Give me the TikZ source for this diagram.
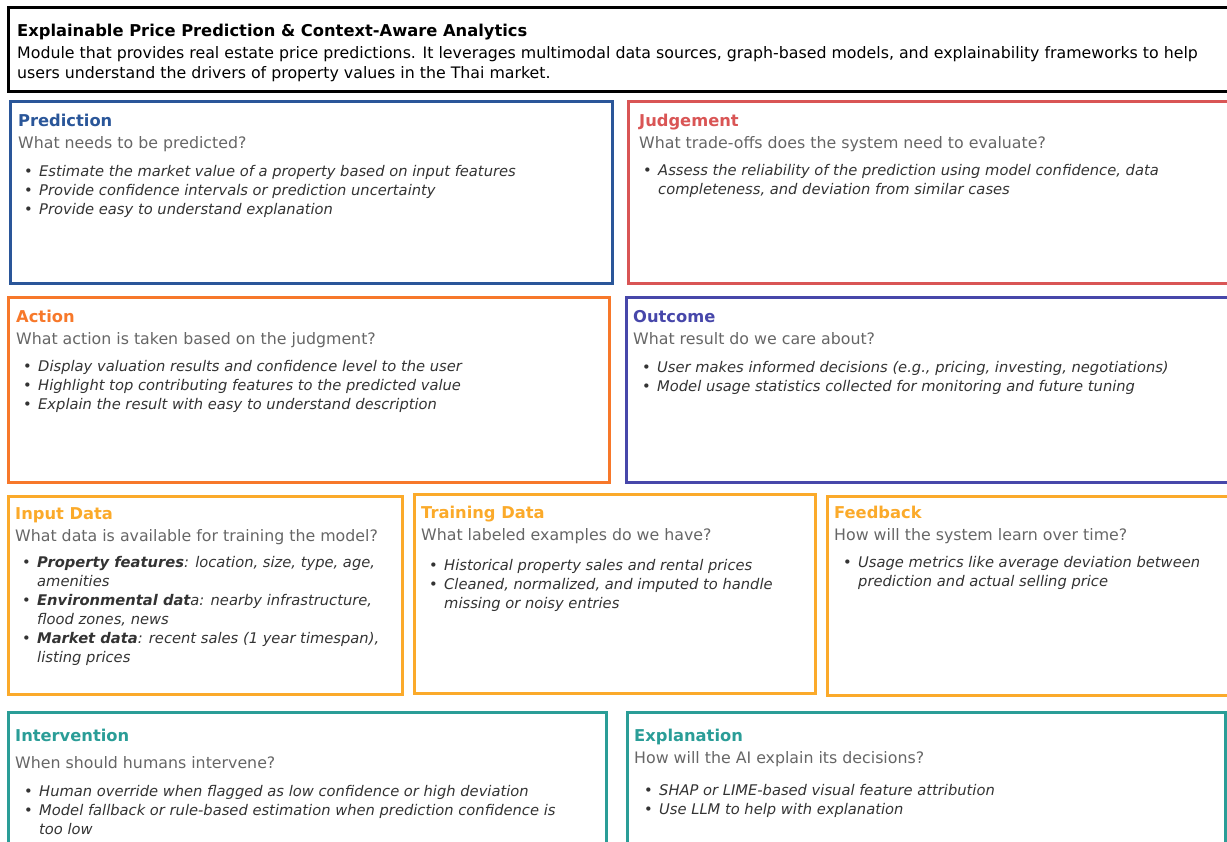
\documentclass[tikz,border=0pt]{standalone}
\usepackage{fontspec}
\setmainfont{DejaVu Sans}
\usetikzlibrary{calc}

\definecolor{predblue}{HTML}{2A5699}
\definecolor{judgered}{HTML}{D95555}
\definecolor{actorange}{HTML}{F7782A}
\definecolor{outindigo}{HTML}{4747AA}
\definecolor{dataamber}{HTML}{FBAA2A}
\definecolor{humanteal}{HTML}{2A9D97}
\definecolor{qgray}{HTML}{666666}
\definecolor{bodytext}{HTML}{333333}

\newcommand*{\bitem}[1]{\makebox[15pt][l]{\upshape\textbullet}#1}
\newcommand*{\bcont}[1]{\hspace*{15pt}#1}

\tikzset{
	card/.style={line width=3pt, draw=#1},
	cardtitle/.style={anchor=west, inner sep=0pt, text=#1,
		text height=12pt, text depth=0pt,
		font=\fontsize{16.3}{20}\selectfont\bfseries},
	question/.style={anchor=west, inner sep=0pt, text=qgray,
		text height=12pt, text depth=0pt,
		font=\fontsize{15.8}{19}\selectfont},
	bullets/.style={anchor=north west, inner sep=0pt, align=left, text=bodytext,
		font=\fontsize{14.7}{19}\selectfont\itshape},
}

\begin{document}
\begin{tikzpicture}[x=1pt, y=-1pt]

\useasboundingbox (0,0) rectangle (1227,842);
\clip (0,0) rectangle (1227,842);

% header
\draw [line width=3pt] (8,8) rectangle (1240,92);
\node [anchor=west, inner sep=0pt, text height=12pt, text depth=0pt,
	font=\fontsize{16.3}{20}\selectfont\bfseries] (headtitle) at (17,31)
	{Explainable Price Prediction \& Context-Aware Analytics};
\node [anchor=north west, inner sep=0pt, align=left, font=\fontsize{15.8}{20}\selectfont] (headtext) at (17,46)
	{Module that provides real estate price predictions. It leverages multimodal data sources, graph-based models, and explainability frameworks to help\\
	users understand the drivers of property values in the Thai market.};

% row 1
\draw [card=predblue] (10,102) rectangle (612,284);
\node [cardtitle=predblue] (predtitle) at (18,121) {Prediction};
\node [question] (predq) at (18,143) {What needs to be predicted?};
\node [bullets] (predlist) at (24,165) {
	\bitem{Estimate the market value of a property based on input features}\\
	\bitem{Provide confidence intervals or prediction uncertainty}\\
	\bitem{Provide easy to understand explanation}};

\draw [card=judgered] (628,102) rectangle (1240,284);
\node [cardtitle=judgered] (judgetitle) at (639,121) {Judgement};
\node [question] (judgeq) at (639,143) {What trade-offs does the system need to evaluate?};
\node [bullets] (judgelist) at (643,164) {
	\bitem{Assess the reliability of the prediction using model confidence, data}\\
	\bcont{completeness, and deviation from similar cases}};

% row 2
\draw [card=actorange] (8,298) rectangle (609,482);
\node [cardtitle=actorange] (acttitle) at (16,317) {Action};
\node [question] (actq) at (16,339) {What action is taken based on the judgment?};
\node [bullets] (actlist) at (23,360) {
	\bitem{Display valuation results and confidence level to the user}\\
	\bitem{Highlight top contributing features to the predicted value}\\
	\bitem{Explain the result with easy to understand description}};

\draw [card=outindigo] (626,298) rectangle (1240,482);
\node [cardtitle=outindigo] (outtitle) at (633,317) {Outcome};
\node [question] (outq) at (633,339) {What result do we care about?};
\node [bullets] (outlist) at (642,361) {
	\bitem{User makes informed decisions (e.g., pricing, investing, negotiations)}\\
	\bitem{Model usage statistics collected for monitoring and future tuning}};

% row 3
\draw [card=dataamber] (8,496) rectangle (402,694);
\node [cardtitle=dataamber] (inputtitle) at (15,513) {Input Data};
\node [question] (inputq) at (15,535) {What data is available for training the model?};
\node [bullets] (inputlist) at (22,556) {
	\bitem{\textbf{Property features}: location, size, type, age,}\\
	\bcont{amenities}\\
	\bitem{\textbf{Environmental dat}a: nearby infrastructure,}\\
	\bcont{flood zones, news}\\
	\bitem{\textbf{Market data}: recent sales (1 year timespan),}\\
	\bcont{listing prices}};

\draw [card=dataamber] (414,494) rectangle (815,693);
\node [cardtitle=dataamber] (traintitle) at (421,512) {Training Data};
\node [question] (trainq) at (421,534) {What labeled examples do we have?};
\node [bullets] (trainlist) at (429,559) {
	\bitem{Historical property sales and rental prices}\\
	\bitem{Cleaned, normalized, and imputed to handle}\\
	\bcont{missing or noisy entries}};

\draw [card=dataamber] (827,496) rectangle (1240,695);
\node [cardtitle=dataamber] (feedtitle) at (834,512) {Feedback};
\node [question] (feedq) at (834,534) {How will the system learn over time?};
\node [bullets] (feedlist) at (843,556) {
	\bitem{Usage metrics like average deviation between}\\
	\bcont{prediction and actual selling price}};

% row 4
\draw [card=humanteal] (8,712) rectangle (606,860);
\node [cardtitle=humanteal] (intertitle) at (15,735) {Intervention};
\node [question] (interq) at (15,762) {When should humans intervene?};
\node [bullets] (interlist) at (24,785) {
	\bitem{Human override when flagged as low confidence or high deviation}\\
	\bitem{Model fallback or rule-based estimation when prediction confidence is}\\
	\bcont{too low}};

\draw [card=humanteal] (627,712) rectangle (1225,860);
\node [cardtitle=humanteal] (expltitle) at (634,735) {Explanation};
\node [question] (explq) at (634,757) {How will the AI explain its decisions?};
\node [bullets] (expllist) at (644,784) {
	\bitem{SHAP or LIME-based visual feature attribution}\\
	\bitem{Use LLM to help with explanation}};

\end{tikzpicture}
\end{document}
